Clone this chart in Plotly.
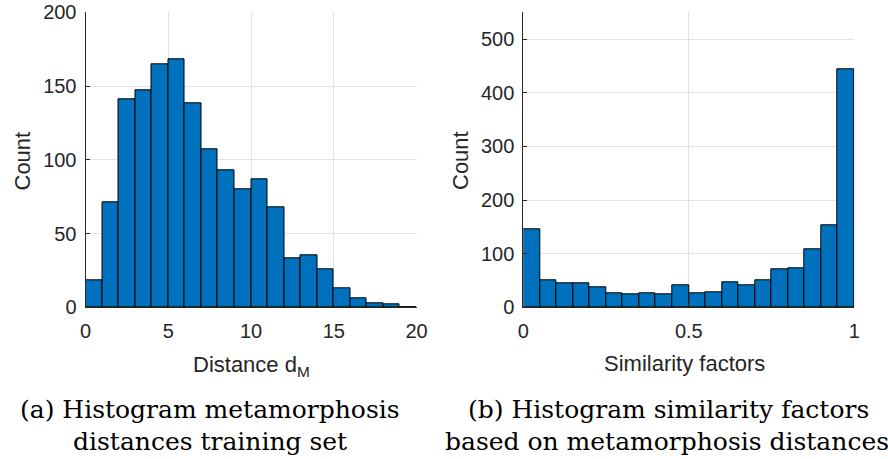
import plotly.graph_objects as go

# ---- data ----
dist_bin_left = [0, 1, 2, 3, 4, 5, 6, 7, 8, 9, 10, 11, 12, 13, 14, 15, 16, 17, 18, 19]
dist_counts = [18, 71, 141, 147, 165, 168, 138, 107, 93, 80, 87, 68, 33, 35, 26, 13, 6, 3, 2, 0]
dist_bin_width = 1

sim_bin_left = [0.00, 0.05, 0.10, 0.15, 0.20, 0.25, 0.30, 0.35, 0.40, 0.45,
                0.50, 0.55, 0.60, 0.65, 0.70, 0.75, 0.80, 0.85, 0.90, 0.95]
sim_counts = [145, 51, 45, 45, 37, 26, 24, 26, 24, 41,
              26, 28, 47, 41, 51, 71, 73, 108, 152, 443]
sim_bin_width = 0.05

dist_ticks = [0, 5, 10, 15, 20]
dist_yticks = [0, 50, 100, 150, 200]
sim_ticks = [0, 0.5, 1]
sim_tick_text = ["0", "0.5", "1"]
sim_yticks = [0, 100, 200, 300, 400, 500]

W, H = 888, 459
BAR = "#0072BD"
AX = "#262626"
GRID = "#e3e3e3"
SANS = "Liberation Sans, Arial, sans-serif"
SERIF = "DejaVu Serif, serif"

def px_x(p):
    return p / W

def px_y(p):
    return 1 - p / H

fig = go.Figure()
fig.add_trace(go.Bar(x=dist_bin_left, y=dist_counts, width=dist_bin_width, offset=0,
                     marker=dict(color=BAR, line=dict(color="#000000", width=1)),
                     xaxis="x", yaxis="y", showlegend=False))
fig.add_trace(go.Bar(x=sim_bin_left, y=sim_counts, width=sim_bin_width, offset=0,
                     marker=dict(color=BAR, line=dict(color="#000000", width=1)),
                     xaxis="x2", yaxis="y2", showlegend=False))

ytop, ybot = 12.3, 307.3
common_x = dict(showgrid=True, gridcolor=GRID, gridwidth=1, zeroline=False,
                showline=True, linecolor=AX, linewidth=1, ticks="inside", ticklen=4,
                tickcolor=AX, tickfont=dict(family=SANS, size=20, color=AX),
                ticklabelstandoff=6, automargin=False)
common_y = dict(showgrid=True, gridcolor=GRID, gridwidth=1, zeroline=False,
                showline=True, linecolor=AX, linewidth=1, ticks="inside", ticklen=4,
                tickcolor=AX, tickfont=dict(family=SANS, size=20, color=AX),
                ticklabelstandoff=4, automargin=False)

fig.update_layout(
    template="none",
    width=W, height=H, autosize=False,
    margin=dict(l=0, r=0, t=0, b=0, pad=0, autoexpand=False),
    paper_bgcolor="white", plot_bgcolor="white",
    bargap=0,
    xaxis=dict(domain=[px_x(85.5), px_x(416.5)], range=[0, 20], tickvals=dist_ticks,
               anchor="y", **common_x),
    yaxis=dict(domain=[px_y(ybot), px_y(ytop)], range=[0, 200], tickvals=dist_yticks,
               anchor="x", **common_y),
    xaxis2=dict(domain=[px_x(523.3), px_x(854.3)], range=[0, 1], tickvals=sim_ticks,
                ticktext=sim_tick_text, anchor="y2", **common_x),
    yaxis2=dict(domain=[px_y(ybot), px_y(ytop)], range=[0, 550], tickvals=sim_yticks,
                anchor="x2", **common_y),
)

ann = []
lab = dict(family=SANS, size=22, color=AX)
ann.append(dict(text="Count", x=px_x(22.5), y=px_y(161), textangle=-90, font=lab))
ann.append(dict(text="Count", x=px_x(461), y=px_y(161), textangle=-90, font=lab))
ann.append(dict(text="Distance d<sub>M</sub>", x=px_x(251), y=px_y(366), font=lab))
ann.append(dict(text="Similarity factors", x=px_x(684), y=px_y(363), font=lab))

cap = dict(family=SERIF, size=25, color="#000000")
ann.append(dict(text="(a) Histogram metamorphosis", x=px_x(210), y=px_y(409), font=cap))
ann.append(dict(text="distances training set", x=px_x(210), y=px_y(441), font=cap))
ann.append(dict(text="(b) Histogram similarity factors", x=px_x(668), y=px_y(409), font=cap))
ann.append(dict(text="based on metamorphosis distances", x=px_x(667), y=px_y(441), font=cap))

for a in ann:
    a.update(xref="paper", yref="paper", showarrow=False, xanchor="center", yanchor="middle")
fig.update_layout(annotations=ann)

fig.write_html("out.html")
